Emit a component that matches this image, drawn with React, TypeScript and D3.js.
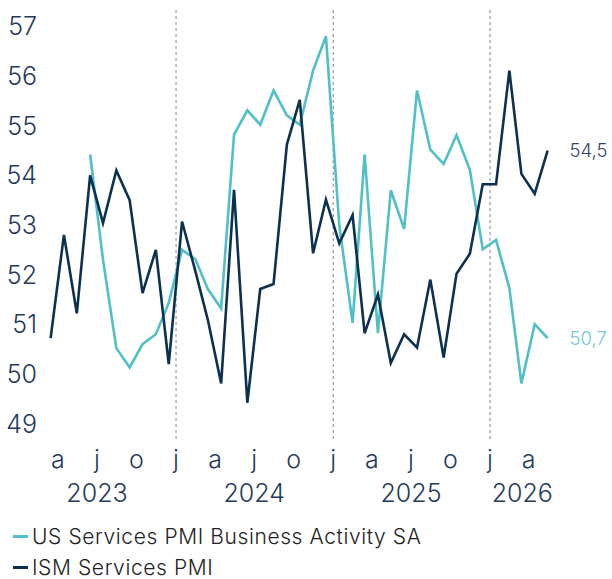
import React, { useEffect, useRef } from 'react';
import * as d3 from 'd3';

// monthly values, first month of each series
const ismStart = '2023-03';
const ismValues = [
  50.72, 52.8, 51.22, 54.0, 53.04, 54.1, 53.5, 51.63, 52.5, 50.2,
  53.07, 52.07, 51.09, 49.81, 53.71, 49.42, 51.71, 51.81, 54.62, 55.52,
  52.43, 53.51, 52.63, 53.2, 50.82, 51.6, 50.22, 50.8, 50.53, 51.9,
  50.33, 52.02, 52.42, 53.82, 53.82, 56.11, 54.03, 53.63, 54.5
];

const usStart = '2023-06';
const usValues = [
  54.42, 52.3, 50.52, 50.13, 50.6, 50.8, 51.43, 52.5, 52.31, 51.71,
  51.32, 54.82, 55.31, 55.02, 55.71, 55.21, 55.02, 56.11, 56.8, 53.0,
  51.03, 54.42, 50.82, 53.7, 52.92, 55.71, 54.52, 54.23, 54.81, 54.11,
  52.51, 52.7, 51.73, 49.81, 51.0, 50.72
];

const yTicks = [49, 50, 51, 52, 53, 54, 55, 56, 57];
const monthTicks = [
  '2023-04-01', '2023-07-01', '2023-10-01', '2024-01-01', '2024-04-01', '2024-07-01', '2024-10-01',
  '2025-01-01', '2025-04-01', '2025-07-01', '2025-10-01', '2026-01-01', '2026-04-01'
];
const yearLabels = ['2023', '2024', '2025', '2026'];
const yearLabelDates = ['2023-07-01', '2024-07-01', '2025-07-01', '2026-03-17'];
const yearLines = ['2024-01-01', '2025-01-01', '2026-01-01'];

const seriesNames = ['US Services PMI Business Activity SA', 'ISM Services PMI'];
const endLabels = ['50,7', '54,5'];

const lightColor = '#4fbfc8';
const darkColor = '#0c3150';
const textColor = '#1f3a5c';
const font = 'Inter, "Noto Sans", sans-serif';

const parse = d3.utcParse('%Y-%m-%d');
const toSeries = (start, values) => {
  const s = parse(start + '-15');
  return values.map((v, i) => ({ date: d3.utcMonth.offset(s, i), value: v }));
};

const App = () => {
  const container = useRef(null);
  const width = 612;
  const height = 579;

  useEffect(() => {
    createChart();
  }, []);

  const createChart = () => {
    const svg = d3.select(container.current);
    svg.selectAll('*').remove();

    const xScale = d3
      .scaleUtc()
      .domain([parse('2023-03-01'), parse('2026-06-01')])
      .range([44.6, 554.9]);
    const yScale = d3.scaleLinear().domain([49, 57]).range([423.6, 26.4]);

    // dashed year separators
    svg
      .selectAll('.yearline')
      .data(yearLines)
      .join('line')
      .attr('class', 'yearline')
      .attr('x1', d => xScale(parse(d)))
      .attr('x2', d => xScale(parse(d)))
      .attr('y1', 10)
      .attr('y2', 439)
      .attr('stroke', '#9a9a9a')
      .attr('stroke-width', 1.2)
      .attr('stroke-dasharray', '3,3');

    // y labels
    svg
      .selectAll('.ylab')
      .data(yTicks)
      .join('text')
      .attr('class', 'ylab')
      .attr('x', 37)
      .attr('y', d => yScale(d))
      .attr('dy', '0.36em')
      .attr('text-anchor', 'end')
      .style('font-family', font)
      .style('font-weight', 300)
      .style('font-size', '25px')
      .style('fill', textColor)
      .text(d => d);

    // month labels
    const monthFmt = d3.utcFormat('%b');
    svg
      .selectAll('.mlab')
      .data(monthTicks)
      .join('text')
      .attr('class', 'mlab')
      .attr('x', d => xScale(parse(d)))
      .attr('y', 468)
      .attr('text-anchor', 'middle')
      .style('font-family', font)
      .style('font-weight', 300)
      .style('font-size', '25px')
      .style('fill', textColor)
      .text(d => monthFmt(parse(d)).charAt(0).toLowerCase());

    svg
      .selectAll('.yrlab')
      .data(yearLabels)
      .join('text')
      .attr('class', 'yrlab')
      .attr('x', (d, i) => xScale(parse(yearLabelDates[i])))
      .attr('y', 502)
      .attr('text-anchor', 'middle')
      .style('font-family', font)
      .style('font-weight', 300)
      .style('font-size', '25px')
      .style('fill', textColor)
      .text(d => d);

    const line = d3
      .line()
      .x(d => xScale(d.date))
      .y(d => yScale(d.value));

    const series = [toSeries(usStart, usValues), toSeries(ismStart, ismValues)];
    const colors = [lightColor, darkColor];
    const labelColors = ['#6fc9d0', '#2a4566'];

    series.forEach((s, i) => {
      svg
        .append('path')
        .datum(s)
        .attr('d', line)
        .attr('fill', 'none')
        .attr('stroke', colors[i])
        .attr('stroke-width', 2.6)
        .attr('stroke-linejoin', 'miter');

      const last = s[s.length - 1];
      svg
        .append('text')
        .attr('x', xScale(last.date) + 22)
        .attr('y', yScale(last.value))
        .attr('dy', '0.36em')
        .style('font-family', font)
        .style('font-weight', 300)
        .style('font-size', '18.5px')
        .style('fill', labelColors[i])
        .text(endLabels[i]);
    });

    // legend
    const legend = svg
      .selectAll('.leg')
      .data(seriesNames)
      .join('g')
      .attr('class', 'leg')
      .attr('transform', (d, i) => `translate(13, ${536.5 + i * 31})`);
    legend
      .append('line')
      .attr('x1', 0)
      .attr('x2', 15)
      .attr('stroke', (d, i) => colors[i])
      .attr('stroke-width', 3);
    legend
      .append('text')
      .attr('x', 19)
      .attr('dy', '0.36em')
      .style('font-family', font)
      .style('font-weight', 300)
      .style('font-size', '21px')
      .style('letter-spacing', '0.6px')
      .style('fill', '#222')
      .text(d => d);
  };

  return (
    <svg
      ref={container}
      width={width}
      height={height}
      style={{ position: 'absolute', left: 0, top: 0, background: '#fff' }}
    />
  );
};

export default App;
